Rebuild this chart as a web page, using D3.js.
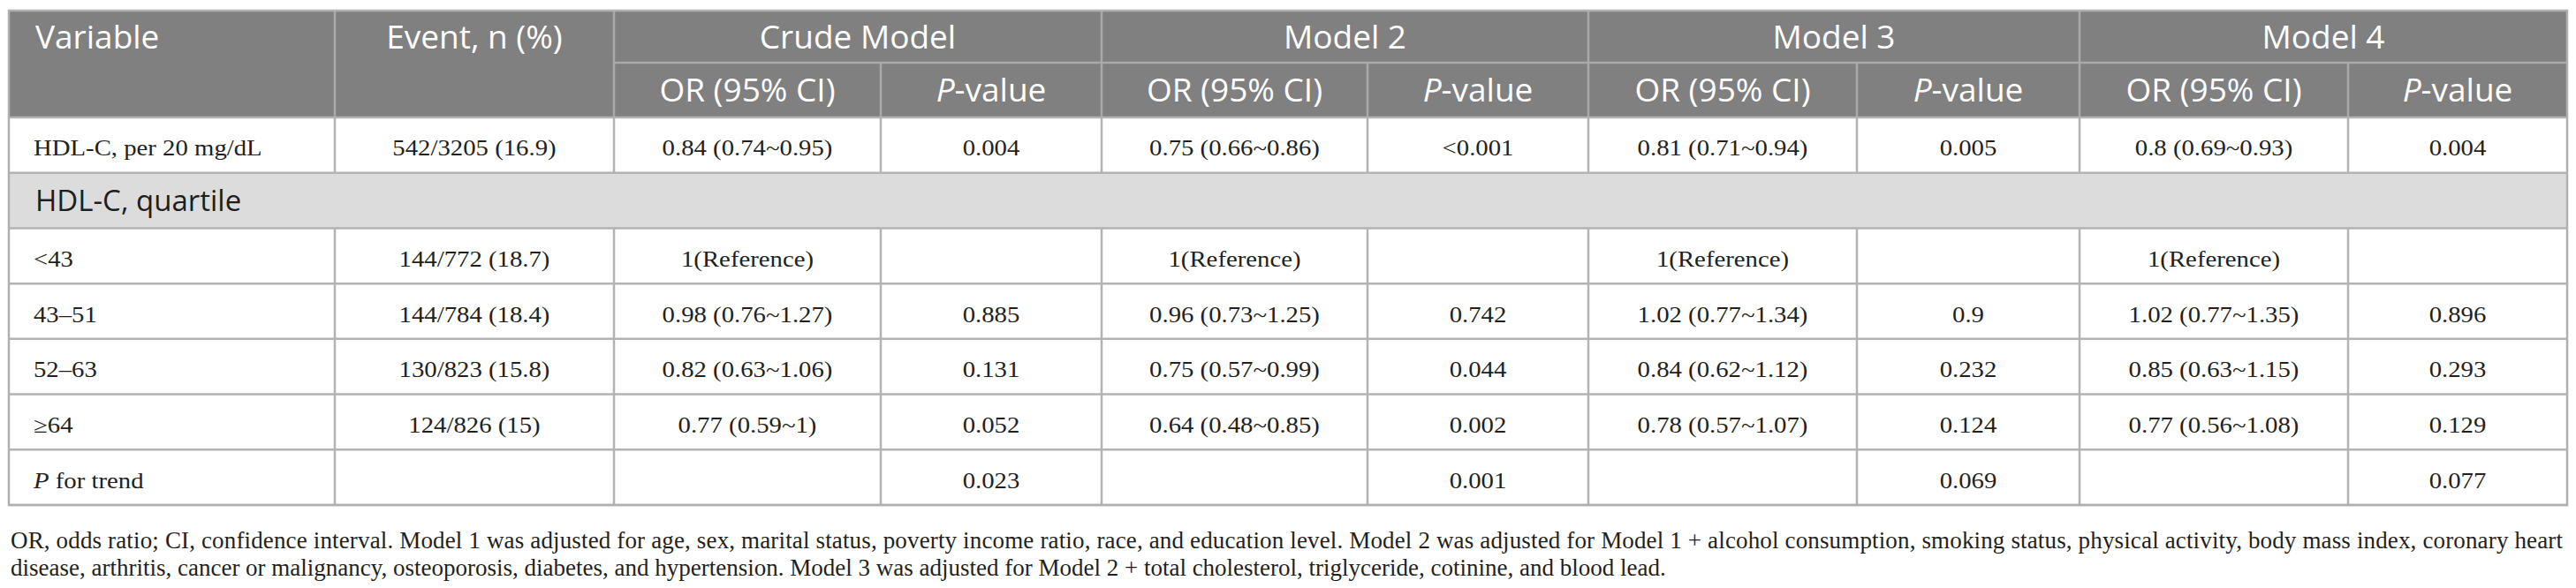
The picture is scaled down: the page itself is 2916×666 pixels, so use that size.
<!DOCTYPE html>
<html><head><meta charset="utf-8">
<script src="https://cdn.jsdelivr.net/npm/d3@7"></script>
<style>html,body{margin:0;padding:0;background:#fff;}svg{display:block;}</style>
</head><body><svg id="c" width="2916" height="666"></svg>
<script>
// ---------- data ----------
const headerTop = ["Variable", "Event, n (%)"];
const models = ["Crude Model", "Model 2", "Model 3", "Model 4"];
const subHeaders = ["OR (95% CI)", "P-value"];
const variables = ["HDL-C, per 20 mg/dL", "HDL-C, quartile", "<43", "43\u201351", "52\u201363", "\u226564", "P for trend"];
const sectionRows = [false, true, false, false, false, false, false];
const events = ["542/3205 (16.9)", "", "144/772 (18.7)", "144/784 (18.4)", "130/823 (15.8)", "124/826 (15)", ""];
const crudeOR = ["0.84 (0.74~0.95)", "", "1(Reference)", "0.98 (0.76~1.27)", "0.82 (0.63~1.06)", "0.77 (0.59~1)", ""];
const crudeP  = ["0.004", "", "", "0.885", "0.131", "0.052", "0.023"];
const model2OR = ["0.75 (0.66~0.86)", "", "1(Reference)", "0.96 (0.73~1.25)", "0.75 (0.57~0.99)", "0.64 (0.48~0.85)", ""];
const model2P  = ["<0.001", "", "", "0.742", "0.044", "0.002", "0.001"];
const model3OR = ["0.81 (0.71~0.94)", "", "1(Reference)", "1.02 (0.77~1.34)", "0.84 (0.62~1.12)", "0.78 (0.57~1.07)", ""];
const model3P  = ["0.005", "", "", "0.9", "0.232", "0.124", "0.069"];
const model4OR = ["0.8 (0.69~0.93)", "", "1(Reference)", "1.02 (0.77~1.35)", "0.85 (0.63~1.15)", "0.77 (0.56~1.08)", ""];
const model4P  = ["0.004", "", "", "0.896", "0.293", "0.129", "0.077"];
const footnotes = [
  "OR, odds ratio; CI, confidence interval. Model 1 was adjusted for age, sex, marital status, poverty income ratio, race, and education level. Model 2 was adjusted for Model 1 + alcohol consumption, smoking status, physical activity, body mass index, coronary heart",
  "disease, arthritis, cancer or malignancy, osteoporosis, diabetes, and hypertension. Model 3 was adjusted for Model 2 + total cholesterol, triglyceride, cotinine, and blood lead."
];

// ---------- layout ----------
const colEdges = [10, 379, 695, 997, 1247, 1548, 1798, 2102, 2354, 2658, 2906];
const hdrY = [12, 71, 133];
const tableBottom = 572;
const SERIF = "'Liberation Serif', 'Times New Roman', serif";
const SANS = "'Open Sans', 'Noto Sans', sans-serif";
const SX = 1.15;         // horizontal stretch for serif cell text
const serifSize = 25;
const hdrSize = 37;
const gridCol = "#b3b3b3";
const hdrLine = "#a9a9a9";
const textCol = "#231f20";

const svg = d3.select("#c");
svg.append("rect").attr("width", 2916).attr("height", 666).attr("fill", "#fff");

const y = d3.scaleBand().domain(d3.range(variables.length)).range([hdrY[2], tableBottom]);
const columns = [events, crudeOR, crudeP, model2OR, model2P, model3OR, model3P, model4OR, model4P];

// header background
svg.append("rect").attr("x", colEdges[0]).attr("y", hdrY[0])
  .attr("width", colEdges[10] - colEdges[0]).attr("height", hdrY[2] - hdrY[0]).attr("fill", "#808080");

// section row background
svg.selectAll("rect.sec").data(d3.range(variables.length).filter(i => sectionRows[i])).join("rect")
  .attr("class", "sec").attr("x", colEdges[0]).attr("y", i => y(i))
  .attr("width", colEdges[10] - colEdges[0]).attr("height", y.bandwidth()).attr("fill", "#dcdcdc");

// header grid lines
const hdrV = [];
colEdges.slice(1, 10).forEach((cx, k) => {
  const idx = k + 1;
  const full = idx <= 2 || idx % 2 === 0;
  hdrV.push({x: cx, y1: full ? hdrY[0] : hdrY[1], y2: hdrY[2]});
});
svg.selectAll("line.hv").data(hdrV).join("line").attr("class", "hv")
  .attr("x1", d => d.x).attr("x2", d => d.x).attr("y1", d => d.y1).attr("y2", d => d.y2)
  .attr("stroke", hdrLine).attr("stroke-width", 2.5);
svg.append("line").attr("x1", colEdges[2]).attr("x2", colEdges[10]).attr("y1", hdrY[1]).attr("y2", hdrY[1])
  .attr("stroke", hdrLine).attr("stroke-width", 2.5);

// body horizontal lines
svg.selectAll("line.bh").data(d3.range(variables.length + 1)).join("line").attr("class", "bh")
  .attr("x1", colEdges[0]).attr("x2", colEdges[10])
  .attr("y1", i => i < variables.length ? y(i) : tableBottom)
  .attr("y2", i => i < variables.length ? y(i) : tableBottom)
  .attr("stroke", gridCol).attr("stroke-width", 2.5);

// body vertical lines
const bodyV = [];
d3.range(variables.length).forEach(r => {
  if (sectionRows[r]) return;
  colEdges.slice(1, 10).forEach(cx => bodyV.push({x: cx, y1: y(r), y2: y(r) + y.bandwidth()}));
});
svg.selectAll("line.bv").data(bodyV).join("line").attr("class", "bv")
  .attr("x1", d => d.x).attr("x2", d => d.x).attr("y1", d => d.y1).attr("y2", d => d.y2)
  .attr("stroke", gridCol).attr("stroke-width", 2.5);

// outer border
svg.append("rect").attr("x", colEdges[0]).attr("y", hdrY[0])
  .attr("width", colEdges[10] - colEdges[0]).attr("height", tableBottom - hdrY[0])
  .attr("fill", "none").attr("stroke", "#b0b0b0").attr("stroke-width", 2.5);

// helpers
function addItalicP(sel, label) {
  sel.append("tspan").attr("font-style", "italic").text("P");
  sel.append("tspan").text(label.slice(1));
}

// header text
const hdr = svg.append("g").attr("font-family", SANS).attr("font-size", hdrSize).attr("fill", "#fff");
hdr.append("text").attr("x", 40).attr("y", 55).text(headerTop[0]);
hdr.append("text").attr("x", (colEdges[1] + colEdges[2]) / 2).attr("y", 55).attr("text-anchor", "middle").text(headerTop[1]);
hdr.selectAll("text.mod").data(models).join("text").attr("class", "mod")
  .attr("x", (d, i) => (colEdges[2 + 2 * i] + colEdges[4 + 2 * i]) / 2).attr("y", 55)
  .attr("text-anchor", "middle").text(d => d);
models.forEach((m, i) => {
  subHeaders.forEach((s, j) => {
    const t = hdr.append("text").attr("x", (colEdges[2 + 2 * i + j] + colEdges[3 + 2 * i + j]) / 2)
      .attr("y", 115).attr("text-anchor", "middle");
    if (s.startsWith("P-")) addItalicP(t, s); else t.text(s);
  });
});

// body text
const body = svg.append("g").attr("fill", textCol);
variables.forEach((v, r) => {
  const base = y(r) + y.bandwidth() / 2 + 12;
  if (sectionRows[r]) {
    body.append("text").attr("x", 40).attr("y", base).attr("font-family", SANS)
      .attr("font-size", 33).attr("fill", "#1e1e1e").text(v);
    return;
  }
  const t = body.append("text").attr("font-family", SERIF).attr("font-size", serifSize)
    .attr("transform", `translate(38,${base}) scale(${SX},1)`);
  if (v.startsWith("P for")) addItalicP(t, v); else t.text(v);
  columns.forEach((col, c) => {
    if (!col[r]) return;
    const cx = (colEdges[1 + c] + colEdges[2 + c]) / 2;
    body.append("text").attr("font-family", SERIF).attr("font-size", serifSize)
      .attr("text-anchor", "middle")
      .attr("transform", `translate(${cx},${base}) scale(${SX},1)`).text(col[r]);
  });
});

// footnotes (first line justified to the table width)
const fn = svg.append("g").attr("font-family", SERIF).attr("font-size", 27).attr("fill", textCol);
fn.selectAll("text").data(footnotes).join("text")
  .attr("x", 12).attr("y", (d, i) => 621 + i * 31).text(d => d)
  .each(function (d, i) {
    if (i === 0) d3.select(this).attr("textLength", 2889).attr("lengthAdjust", "spacing");
  });
</script>
</body></html>
